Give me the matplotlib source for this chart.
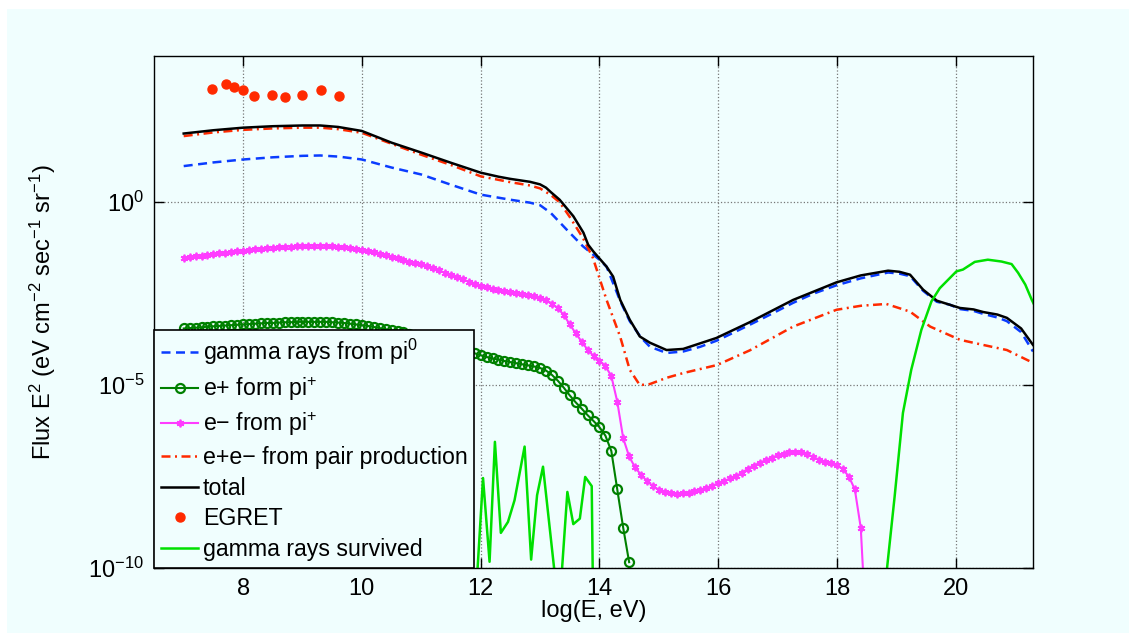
import numpy as np
import matplotlib
matplotlib.use('Agg')
import matplotlib.pyplot as plt
from matplotlib.patches import Rectangle

plt.rcParams['font.family'] = ['Liberation Sans', 'DejaVu Sans']
plt.rcParams['mathtext.fontset'] = 'custom'
plt.rcParams['mathtext.rm'] = 'Liberation Sans'
plt.rcParams['mathtext.it'] = 'Liberation Sans:italic'
plt.rcParams['mathtext.bf'] = 'Liberation Sans:bold'

bg = '#f0fefe'

# grid of log(E) used by the marker series (0.1 step)
x_marker_start = 7.0

# e- from pi+ (log10 flux), 7.0 .. 18.5 step 0.1
em_pi = [-1.52, -1.50, -1.48, -1.46, -1.44, -1.42, -1.40, -1.38, -1.36, -1.34,
         -1.32, -1.30, -1.28, -1.27, -1.25, -1.24, -1.23, -1.22, -1.21, -1.20,
         -1.20, -1.19, -1.19, -1.19, -1.19, -1.20, -1.21, -1.23, -1.25, -1.28,
         -1.30, -1.34, -1.37, -1.41, -1.45, -1.49, -1.53, -1.58, -1.62, -1.66,
         -1.70, -1.75, -1.80, -1.86, -1.93, -1.99, -2.05, -2.11, -2.17, -2.23,
         -2.28, -2.32, -2.36, -2.39, -2.42, -2.45, -2.48, -2.51, -2.54, -2.57,
         -2.61, -2.67, -2.77, -2.90, -3.08, -3.34, -3.58, -3.81, -4.03, -4.20,
         -4.33, -4.48, -4.75, -5.45, -6.45, -6.95, -7.25, -7.45, -7.62, -7.76,
         -7.86, -7.92, -7.95, -7.97, -7.96, -7.94, -7.90, -7.86, -7.81, -7.75,
         -7.68, -7.62, -7.55, -7.48, -7.40, -7.28, -7.20, -7.12, -7.05, -6.98,
         -6.92, -6.88, -6.84, -6.82, -6.84, -6.89, -6.96, -7.04, -7.10, -7.14,
         -7.19, -7.30, -7.50, -7.85, -8.90, -12.0]

# e+ from pi+ (log10 flux), 7.0 .. 14.5 step 0.1
ep_pi = [-3.45, -3.44, -3.43, -3.42, -3.40, -3.39, -3.38, -3.37, -3.36, -3.35,
         -3.34, -3.33, -3.32, -3.31, -3.30, -3.30, -3.29, -3.28, -3.28, -3.27,
         -3.27, -3.27, -3.27, -3.27, -3.27, -3.28, -3.29, -3.30, -3.32, -3.34,
         -3.36, -3.38, -3.41, -3.44, -3.47, -3.50, -3.53, -3.56, -3.59, -3.62,
         -3.66, -3.70, -3.74, -3.79, -3.85, -3.90, -3.96, -4.02, -4.08, -4.13,
         -4.18, -4.23, -4.27, -4.30, -4.34, -4.37, -4.40, -4.43, -4.46, -4.49,
         -4.53, -4.60, -4.72, -4.88, -5.07, -5.28, -5.47, -5.64, -5.82, -5.98,
         -6.15, -6.38, -6.80, -7.85, -8.90, -9.84]

# gamma rays from pi0
g_x = [7.0, 7.5, 8.0, 8.5, 9.0, 9.3, 9.6, 10.0, 10.5, 11.0, 11.5, 12.0, 12.5,
       12.83, 13.0, 13.18, 13.45, 13.72, 14.0, 14.12, 14.35, 14.51, 14.7, 14.85,
       15.13, 15.41, 15.7, 15.98, 16.25, 16.53, 16.9, 17.26, 17.6, 17.99, 18.4,
       18.86, 19.05, 19.23, 19.45, 19.68, 19.9, 20.07, 20.3, 20.46, 20.7, 20.86,
       21.1, 21.3]
g_y = [0.99, 1.09, 1.17, 1.23, 1.27, 1.28, 1.25, 1.17, 0.95, 0.76, 0.48, 0.21,
       0.07, -0.01, -0.08, -0.29, -0.75, -1.20, -1.57, -1.76, -2.70, -3.25,
       -3.70, -3.95, -4.12, -4.08, -3.95, -3.78, -3.57, -3.35, -3.05, -2.75,
       -2.50, -2.27, -2.08, -1.92, -1.95, -2.02, -2.42, -2.72, -2.80, -2.92,
       -2.97, -3.05, -3.15, -3.25, -3.55, -4.08]

# e+e- from pair production
pp_x = [7.0, 7.5, 8.0, 8.5, 9.0, 9.3, 9.6, 10.0, 10.5, 11.0, 11.5, 12.0, 12.5,
        12.83, 13.0, 13.18, 13.33, 13.5, 13.72, 13.89, 14.12, 14.35, 14.51,
        14.68, 14.85, 15.13, 15.41, 15.98, 16.53, 17.26, 17.99, 18.4, 18.83,
        19.23, 19.57, 20.07, 20.46, 20.86, 21.3]
pp_y = [1.81, 1.91, 1.98, 2.02, 2.04, 2.04, 2.00, 1.90, 1.60, 1.30, 1.02, 0.71,
        0.55, 0.46, 0.38, 0.20, 0.00, -0.40, -0.97, -1.52, -2.67, -3.68, -4.58,
        -5.00, -4.97, -4.80, -4.67, -4.45, -4.05, -3.40, -2.94, -2.83, -2.78,
        -2.99, -3.40, -3.76, -3.90, -4.04, -4.39]

# total
t_x = [7.0, 7.5, 8.0, 8.5, 9.0, 9.3, 9.6, 10.0, 10.5, 11.0, 11.5, 12.0, 12.3,
       12.5, 12.83, 13.0, 13.1, 13.18, 13.33, 13.56, 13.73, 13.81, 13.9, 14.12,
       14.23, 14.35, 14.51, 14.68, 14.85, 15.13, 15.41, 15.97, 16.53, 17.26,
       17.99, 18.4, 18.86, 19.05, 19.23, 19.45, 19.68, 20.07, 20.3, 20.46, 20.7,
       20.86, 21.1, 21.3]
t_y = [1.88, 1.97, 2.04, 2.08, 2.10, 2.10, 2.06, 1.95, 1.63, 1.36, 1.08, 0.81,
       0.70, 0.64, 0.56, 0.49, 0.40, 0.28, 0.07, -0.38, -0.83, -1.16, -1.35,
       -1.76, -2.03, -2.67, -3.21, -3.67, -3.84, -4.04, -4.01, -3.71, -3.28,
       -2.67, -2.19, -2.00, -1.87, -1.90, -1.98, -2.39, -2.69, -2.89, -2.93,
       -3.00, -3.07, -3.16, -3.45, -3.90]

# EGRET data
eg_x = [7.48, 7.71, 7.85, 8.0, 8.18, 8.48, 8.71, 9.0, 9.31, 9.61]
eg_y = [3.11, 3.24, 3.15, 3.08, 2.90, 2.94, 2.88, 2.92, 3.06, 2.91]

# gamma rays survived
s_x = [11.93, 12.04, 12.15, 12.24, 12.34, 12.46, 12.57, 12.74, 12.85, 12.95,
       13.05, 13.27, 13.35, 13.46, 13.56, 13.67, 13.76, 13.87, 13.89, 18.81,
       18.97, 19.11, 19.25, 19.42, 19.59, 19.73, 20.01, 20.12, 20.32, 20.54,
       20.77, 20.94, 21.05, 21.17, 21.28, 21.35]
s_y = [-10.5, -7.54, -9.83, -6.55, -9.04, -8.74, -8.15, -6.68, -9.77, -8.01,
       -7.23, -10.5, -10.5, -7.92, -8.80, -8.65, -7.51, -7.76, -10.5, -10.5,
       -8.05, -5.76, -4.58, -3.49, -2.71, -2.35, -1.89, -1.84, -1.63, -1.57,
       -1.62, -1.69, -1.93, -2.25, -2.67, -2.9]

em_x = x_marker_start + 0.1 * np.arange(len(em_pi))
ep_x = x_marker_start + 0.1 * np.arange(len(ep_pi))

fig = plt.figure(figsize=(11.29, 6.33), dpi=100, facecolor='white')
fig.patches.append(Rectangle((7 / 1129, 0), 1, 1 - 9 / 633, transform=fig.transFigure,
                             facecolor=bg, edgecolor='none', zorder=-10))
ax = fig.add_axes([154 / 1129, 1 - 568 / 633, (1033 - 154) / 1129, (568 - 56) / 633])
ax.set_facecolor(bg)

p = lambda v: 10.0 ** np.asarray(v)

ax.plot(g_x, p(g_y), '--', color='#0a3cff', lw=1.8, dashes=(3.6, 2.2), label='gamma rays from pi$^{0}$')
ax.plot(ep_x, p(ep_pi), '-o', color='#008000', lw=1.5, ms=6.5, mfc='none', mew=1.6,
        label='e+ form pi$^{{+}}$')
ax.plot(em_x, p(em_pi), '-', color='#ff3cff', lw=1.5, marker=(6, 2, 0), ms=5.5, mew=1.3,
        label='e\u2212 from pi$^{{+}}$')
ax.plot(pp_x, p(pp_y), '-.', color='#ff2a00', lw=1.8, dashes=(3.6, 1.8, 0.8, 1.8),
        label='e+e\u2212 from pair production')
ax.plot(t_x, p(t_y), '-', color='black', lw=1.8, label='total')
ax.plot(eg_x, p(eg_y), 'o', color='#ff2a00', ms=6.5, ls='none', label='EGRET')
ax.plot(s_x, p(s_y), '-', color='#00e000', lw=1.8, label='gamma rays survived')

ax.set_yscale('log')
ax.set_xlim(6.5, 21.3)
ax.set_ylim(1e-10, 1e4)
ax.set_xticks([8, 10, 12, 14, 16, 18, 20])
ax.set_yticks([1e-10, 1e-5, 1e0])
ax.yaxis.set_minor_locator(matplotlib.ticker.NullLocator())
ax.tick_params(direction='in', top=True, right=True, length=7, width=1, labelsize=17, pad=7)
ax.grid(True, which='major', ls=':', color='#777777', lw=0.9)
for s in ax.spines.values():
    s.set_linewidth(1.0)

ax.set_xlabel('log(E, eV)', fontsize=17, labelpad=0)
ax.set_ylabel('Flux E$^2$ (eV cm$^{-2}$ sec$^{-1}$ sr$^{-1}$)', fontsize=17, labelpad=22)

leg = ax.legend(loc='lower left', borderaxespad=0, fontsize=16.7, fancybox=False,
                framealpha=1, facecolor=bg, edgecolor='black', handlelength=1.6,
                handletextpad=0.2, borderpad=0.3, labelspacing=0.33, numpoints=1)
leg.get_frame().set_linewidth(1.2)

fig.savefig('out.png', dpi=100, facecolor=fig.get_facecolor())
